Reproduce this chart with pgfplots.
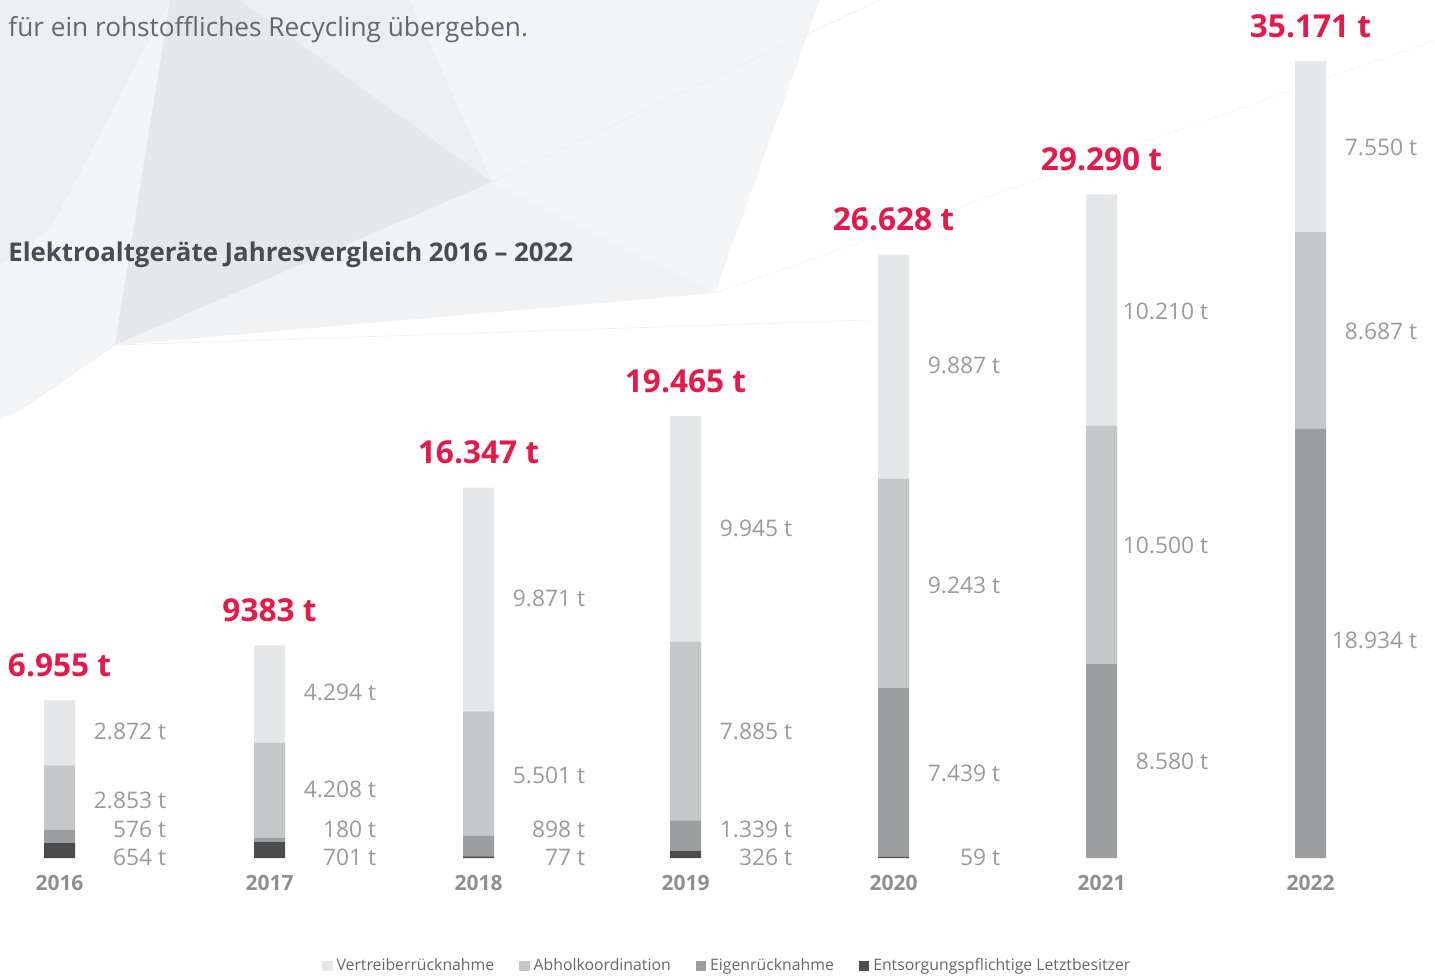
\documentclass[border=0pt]{standalone}
\usepackage{pgfplots}
\pgfplotsset{compat=1.18}
\usepackage{fontspec}
\setmainfont{Open Sans}
\definecolor{cVer}{HTML}{E6E7E8}
\definecolor{cAbh}{HTML}{C5C7C8}
\definecolor{cEig}{HTML}{9D9EA0}
\definecolor{cEnt}{HTML}{4B4C4D}
\definecolor{cRed}{HTML}{E6194B}
\definecolor{cVal}{HTML}{9A9B9D}
\definecolor{cYear}{HTML}{8E8F91}
\definecolor{cTitle}{HTML}{4A4C4E}
\definecolor{cText}{HTML}{66686A}
\definecolor{bgA}{HTML}{E4E8EB}
\definecolor{bgB}{HTML}{EDF0F2}
\definecolor{bgC}{HTML}{F4F5F6}
\definecolor{bgL}{HTML}{ECEEF0}
\pgfplotsset{sqlegend/.style={legend image code/.code={\fill[##1] (0pt,-2.6pt) rectangle (5.2pt,2.6pt);}}}
\tikzset{
  yearlab/.style={anchor=base, inner sep=0, text=cYear, font=\fontsize{10.5}{12}\selectfont\bfseries, yshift=-16pt},
  totlab/.style={anchor=center, inner sep=0, text=cRed, font=\fontsize{15.8}{18}\selectfont\bfseries, yshift=17.5pt},
  vallab/.style={anchor=east, inner sep=0, text=cVal, font=\fontsize{11.4}{13}\selectfont, xshift=53.5pt},
}
\begin{document}
\begin{tikzpicture}
\fill[white] (0,0) rectangle (717.5pt,488pt);
\path[use as bounding box] (0,0) rectangle (717.5pt,488pt);
\begin{scope}[x=0.5pt,y=-0.5pt,shift={(0pt,488pt)}]
  \fill[bgC] (0,0) -- (820,0) -- (715,293) -- (115,345) -- (20,410) -- (0,420) -- cycle;
  \fill[bgB] (0,0) -- (170,0) -- (50,230) -- (0,200) -- cycle;
  \fill[bgA] (170,0) -- (240,0) -- (492,182) -- (115,345) -- cycle;
  \fill[bgB] (240,0) -- (410,0) -- (492,182) -- cycle;
  \fill[bgB!60!bgC] (492,182) -- (715,293) -- (115,345) -- cycle;
  \fill[bgA!70!white] (0,200) -- (50,230) -- (0,265) -- cycle;
  \draw[bgL, line width=0.3pt] (115,345) -- (20,410);
  \draw[bgL, line width=0.3pt] (115,345) -- (870,320);
  \draw[bgL, line width=0.3pt] (492,182) -- (880,0);
  \draw[bgL!60!white, line width=0.3pt] (715,293) -- (1435,40);
  \node[anchor=base west, inner sep=0, text=cText, font=\fontsize{13.1}{15}\selectfont] at (8,37) {für ein rohstoffliches Recycling übergeben.};
  \node[anchor=base west, inner sep=0, text=cTitle, font=\fontsize{12.9}{15}\selectfont\bfseries] at (8,262) {Elektroaltgeräte Jahresvergleich 2016 – 2022};
\end{scope}
\begin{axis}[
  at={(0pt,59pt)}, anchor=south west, scale only axis,
  width=717.5pt, height=429pt,
  xmin=0, xmax=1435, ymin=0, ymax=37863,
  axis line style={draw=none}, xtick=\empty, ytick=\empty,
  ybar stacked, bar width=15.5pt, clip=false,
  reverse legend,
  legend columns=4,
  legend style={at={(0.5075,-0.1259)}, anchor=center, draw=none, fill=none,
    font=\fontsize{7.9}{9}\selectfont, text=cText, inner sep=0pt,
    /tikz/every even column/.append style={column sep=10.5pt}},
]
\addplot[fill=cEnt, draw=none, sqlegend]
  coordinates {(59.5,654) (269.5,701) (478.5,77) (685.5,326) (893.5,59) (1101.5,0) (1310.5,0)};
\addlegendentry{Entsorgungspflichtige Letztbesitzer}
\addplot[fill=cEig, draw=none, sqlegend]
  coordinates {(59.5,576) (269.5,180) (478.5,898) (685.5,1339) (893.5,7439) (1101.5,8580) (1310.5,18934)};
\addlegendentry{Eigenrücknahme}
\addplot[fill=cAbh, draw=none, sqlegend]
  coordinates {(59.5,2853) (269.5,4208) (478.5,5501) (685.5,7885) (893.5,9243) (1101.5,10500) (1310.5,8687)};
\addlegendentry{Abholkoordination}
\addplot[fill=cVer, draw=none, sqlegend]
  coordinates {(59.5,2872) (269.5,4294) (478.5,9871) (685.5,9945) (893.5,9887) (1101.5,10210) (1310.5,7550)};
\addlegendentry{Vertreiberrücknahme}

\foreach \x/\yr in {59.5/2016,269.5/2017,478.5/2018,685.5/2019,893.5/2020,1101.5/2021,1310.5/2022}{
  \edef\tmp{\noexpand\node[yearlab] at (axis cs:\x,0) {\yr};}\tmp
}
\foreach \x/\tot/\lab in {59.5/6955/6.955 t,269.5/9383/9383 t,478.5/16347/16.347 t,685.5/19495/19.465 t,893.5/26628/26.628 t,1101.5/29290/29.290 t,1310.5/35171/35.171 t}{
  \edef\tmp{\noexpand\node[totlab] at (axis cs:\x,\tot) {\lab};}\tmp
}
\foreach \x/\py/\lab in {
  59.5/731/2.872 t, 59.5/800/2.853 t, 59.5/829/576 t, 59.5/857/654 t,
  269.5/692/4.294 t, 269.5/789/4.208 t, 269.5/829/180 t, 269.5/857/701 t,
  478.5/598/9.871 t, 478.5/775/5.501 t, 478.5/829/898 t, 478.5/857/77 t,
  685.5/528/9.945 t, 685.5/731/7.885 t, 685.5/829/1.339 t, 685.5/857/326 t,
  893.5/365/9.887 t, 893.5/585/9.243 t, 893.5/773/7.439 t, 893.5/857/59 t,
  1101.5/311/10.210 t, 1101.5/545/10.500 t, 1101.5/761/8.580 t,
  1310.5/147/7.550 t, 1310.5/331/8.687 t, 1310.5/640/18.934 t}{
  \edef\tmp{\noexpand\node[vallab, yshift={(858-\py)*0.5pt}] at (axis cs:\x,0) {\lab};}\tmp
}
\end{axis}
\end{tikzpicture}
\end{document}
